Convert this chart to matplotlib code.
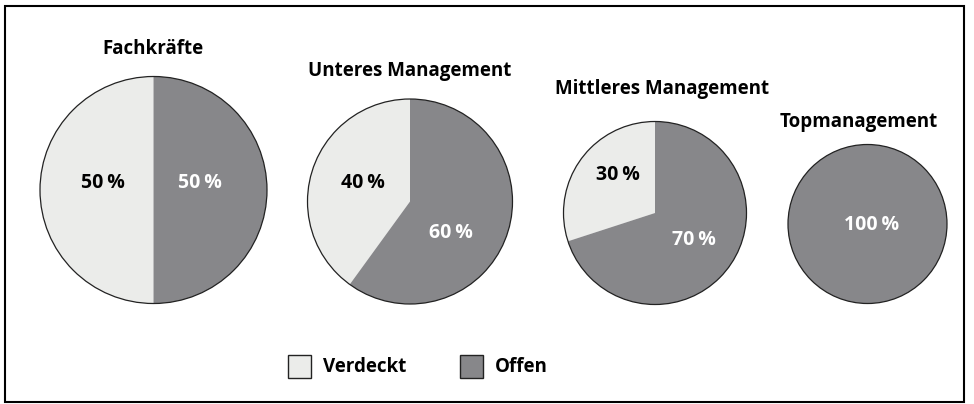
import matplotlib as mpl
mpl.use('Agg')
import matplotlib.pyplot as plt
import matplotlib.patches as mpatches

# data
groups = ['Fachkräfte', 'Unteres Management', 'Mittleres Management', 'Topmanagement']
verdeckt = [50, 40, 30, 0]
offen = [50, 60, 70, 100]
series_names = ['Verdeckt', 'Offen']

light = '#ebecea'
dark = '#87878a'

plt.rcParams['font.family'] = ['Open Sans', 'DejaVu Sans']

W, H = 974, 404
fig = plt.figure(figsize=(W / 100, H / 100), dpi=100)
ax = fig.add_axes([0, 0, 1, 1])

# pie layout in pixel coords (y from top)
centers = [(153.5, 190), (410, 201.5), (655, 213), (867.5, 224)]
radii = [113.5, 102.5, 91.5, 79.5]
title_y = [49, 71, 89, 122]
title_x = [153, 410, 662, 859]
# label offsets from pie centre (verdeckt, offen), pixels, y down
label_off = [((-51, -7), (46, -7)),
             ((-47, -18), (41, 31)),
             ((-37, -38), (39, 27)),
             (None, (4, 1))]


def fy(y):
    return H - y


for i in range(len(groups)):
    cx, cy = centers[i]
    r = radii[i]
    vals = [verdeckt[i], offen[i]]
    ax.pie(vals, colors=[light, dark], startangle=90, counterclock=True,
           center=(cx, fy(cy)), radius=r, wedgeprops=dict(linewidth=0))
    ax.add_patch(mpatches.Circle((cx, fy(cy)), r, fill=False, edgecolor='#222222', lw=0.9))
    for v, off, col in zip(vals, label_off[i], ['black', 'white']):
        if v == 0:
            continue
        ax.text(cx + off[0], fy(cy + off[1]), f'{v}\u2009%', color=col, fontsize=14,
                fontweight='bold', ha='center', va='center')
    ax.text(title_x[i], fy(title_y[i]), groups[i], fontsize=13.5, fontweight='bold',
            ha='center', va='center')

# legend
leg_x = [288, 460]
for name, col, lx in zip(series_names, [light, dark], leg_x):
    ax.add_patch(mpatches.Rectangle((lx, fy(378)), 23, 23, facecolor=col,
                                    edgecolor='#222222', lw=1))
    ax.text(lx + 35, fy(366.5), name, fontsize=13.5, fontweight='bold',
            ha='left', va='center')

# frame
ax.add_patch(mpatches.Rectangle((5, fy(402)), 959, 396, fill=False, edgecolor='black', lw=1.5))

ax.set_xlim(0, W)
ax.set_ylim(0, H)
ax.set_aspect('auto')
ax.axis('off')

fig.savefig('out.png', dpi=100)
